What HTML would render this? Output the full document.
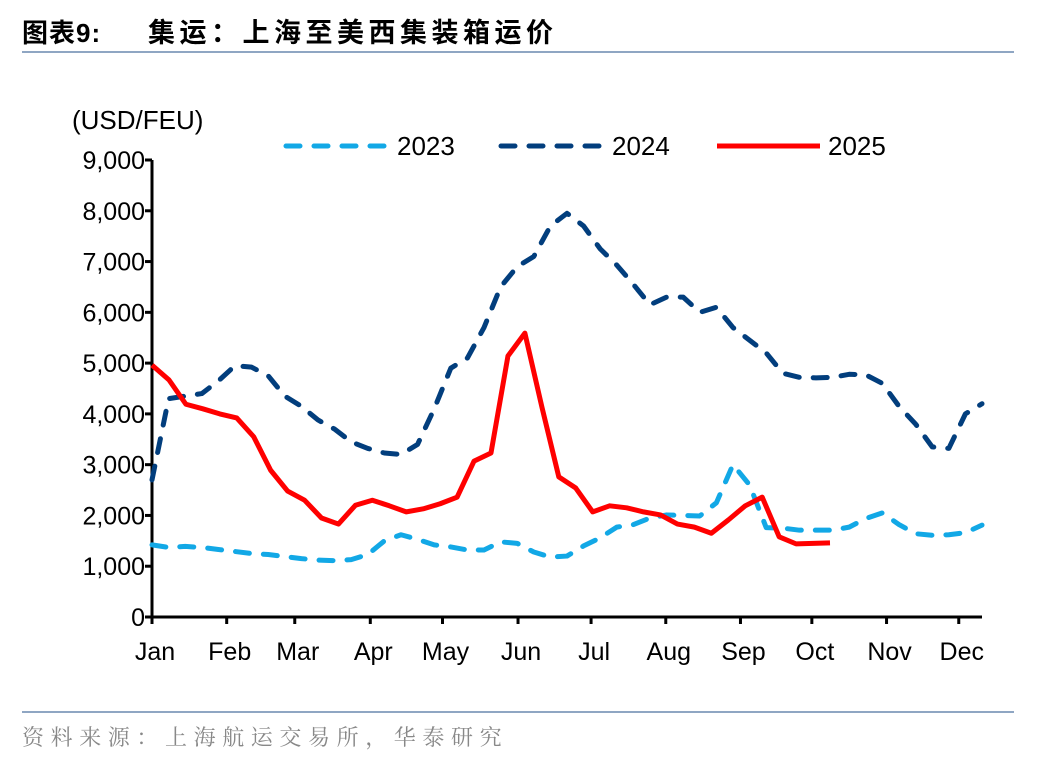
<!DOCTYPE html>
<html><head><meta charset="utf-8"><style>
body{margin:0;background:#fff;width:1048px;height:760px;overflow:hidden;font-family:"Liberation Sans","Noto Sans CJK SC",sans-serif}
</style></head><body>
<svg width="1048" height="760">
<text x="22" y="42" font-size="26" font-weight="bold" letter-spacing="1" font-family="Liberation Sans,Noto Sans CJK SC,sans-serif">图表9:</text>
<text x="148" y="42" font-size="27" font-weight="bold" letter-spacing="4.5" font-family="Noto Sans CJK SC,sans-serif">集运：上海至美西集装箱运价</text>
<rect x="22" y="51" width="992" height="2" fill="#8fa6c3"/>
<rect x="22" y="711" width="992" height="2" fill="#8fa6c3"/>
<text x="22" y="745" font-size="22" letter-spacing="6.6" fill="#888" font-family="Noto Serif CJK SC,serif">资料来源：上海航运交易所，华泰研究</text>
<text x="72" y="129" font-size="26">(USD/FEU)</text>
<g id="axes"></g><g id="series"></g><g id="legend"></g>
</svg>
<script>
const months=["Jan","Feb","Mar","Apr","May","Jun","Jul","Aug","Sep","Oct","Nov","Dec"];
const monthPos=[0,0.09,0.172,0.263,0.35,0.441,0.529,0.619,0.709,0.795,0.885,0.972];
const yTicks=[0,1000,2000,3000,4000,5000,6000,7000,8000,9000];
const s2023=[1420,1370,1390,1370,1330,1290,1250,1230,1190,1150,1120,1110,1130,1230,1500,1620,1530,1420,1380,1320,1320,1480,1450,1280,1180,1200,1400,1560,1770,1820,1950,2010,2000,1990,2250,3000,2600,1760,1750,1710,1710,1710,1770,1940,2050,1820,1640,1610,1620,1660,1810];
const s2024=[2700,4300,4350,4400,4650,4950,4920,4750,4350,4150,3880,3700,3450,3320,3230,3200,3400,4100,4900,5100,5700,6500,6900,7100,7700,7950,7700,7250,6930,6550,6150,6300,6300,6000,6100,5700,5450,5200,4800,4720,4710,4720,4780,4770,4600,4150,3800,3350,3320,4000,4200];
const s2025=[4960,4670,4190,4100,4000,3920,3550,2890,2480,2300,1950,1830,2200,2300,2190,2070,2130,2230,2360,3070,3230,5140,5590,4140,2760,2540,2070,2190,2150,2070,2010,1830,1770,1650,1910,2190,2360,1580,1440,1450,1460];
const X0=152,X1=982,Y0=617,Y1=160,NW=50;
const ns="http://www.w3.org/2000/svg";
const xw=i=>X0+(X1-X0)*i/NW;
const xf=f=>X0+(X1-X0)*f;
const y=v=>Y0-(Y0-Y1)*v/9000;
function mk(t,a,p){const e=document.createElementNS(ns,t);for(const k in a)e.setAttribute(k,a[k]);p.appendChild(e);return e;}
const ax=document.getElementById('axes');
let l=mk('line',{x1:X0,y1:Y1,x2:X0,y2:Y0+1.5,stroke:'#000','stroke-width':3},ax);


l=mk('line',{x1:X0-1.5,y1:Y0,x2:X1,y2:Y0,stroke:'#000','stroke-width':3},ax);


yTicks.forEach(v=>{
 const t=mk('line',{x1:X0-7,y1:y(v),x2:X0,y2:y(v),stroke:'#000','stroke-width':3},ax);
 
 
 const tx=mk('text',{x:X0-7,y:y(v)+9,'text-anchor':'end','font-size':25},ax);
 tx.textContent=v.toLocaleString('en-US');
 
 
});
months.forEach((m,i)=>{
 const px=xf(monthPos[i]);
 const t=mk('line',{x1:px,y1:Y0,x2:px,y2:Y0+7,stroke:'#000','stroke-width':3},ax);
 
 
 const tx=mk('text',{x:px+3,y:660,'text-anchor':'middle','font-size':25},ax);
 tx.textContent=m;
 
 
});
const sg=document.getElementById('series');
function line(data,color,dash,name){
 const p=mk('polyline',{points:data.map((v,i)=>xw(i)+','+y(v)).join(' '),fill:'none',stroke:color,'stroke-width':5,'stroke-dasharray':dash,'stroke-linejoin':'round','stroke-linecap':'round'},sg);
 
 
}
line(s2023,'#12a8e6','14 14','series-2023');
line(s2024,'#023e7d','14 14','series-2024');
const rp=mk('polyline',{points:s2025.map((v,i)=>(X0+16.95*i)+','+y(v)).join(' '),fill:'none',stroke:'#ff0000','stroke-width':5,'stroke-linejoin':'round'},sg);


const lg=document.getElementById('legend');
[["2023",'#12a8e6','14 14',283],["2024",'#023e7d','14 14',498],["2025",'#ff0000','none',714]].forEach(e=>{
 const g=mk('g',{},lg);
 
 
 mk('line',{x1:e[3]+3,y1:146,x2:e[3]+106,y2:146,stroke:e[1],'stroke-width':5,'stroke-dasharray':e[2],'stroke-linecap':e[2]==='none'?'butt':'round'},g);
 const t=mk('text',{x:e[3]+114,y:155,'font-size':26},g);
 t.textContent=e[0];
});
</script>
</body></html>
